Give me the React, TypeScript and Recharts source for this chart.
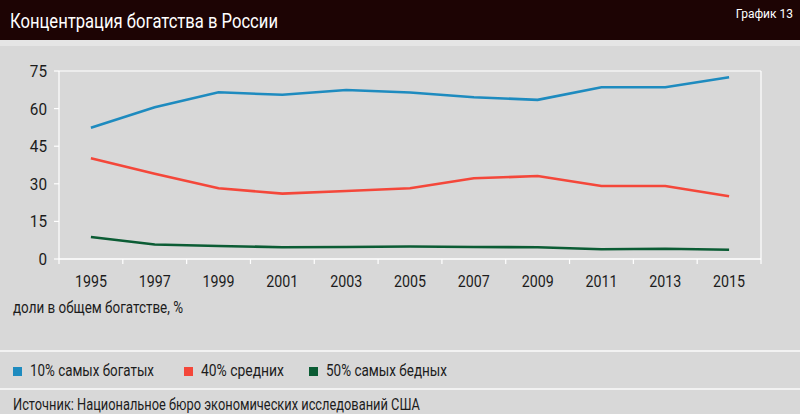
import React from "react";
import { LineChart, Line, XAxis, YAxis, CartesianGrid } from "recharts";

const years = [1995, 1997, 1999, 2001, 2003, 2005, 2007, 2009, 2011, 2013, 2015];
const richest10 = [52.4, 60.5, 66.5, 65.5, 67.4, 66.4, 64.5, 63.5, 68.5, 68.5, 72.5];
const middle40 = [40.2, 34, 28.2, 26.1, 27.1, 28.2, 32.2, 33.1, 29.1, 29.1, 25];
const poorest50 = [8.8, 5.8, 5.2, 4.7, 4.8, 5, 4.8, 4.7, 3.9, 4.1, 3.7];
const yTicks = [0, 15, 30, 45, 60, 75];
const xBoundaries = [1994, 1996, 1998, 2000, 2002, 2004, 2006, 2008, 2010, 2012, 2014, 2016];

const seriesNames = ["10% самых богатых", "40% средних", "50% самых бедных"];
const colors = ["#1e8bbf", "#f4473a", "#0b5c34"];

const data = years.map((y, i) => ({
  year: y,
  rich: richest10[i],
  mid: middle40[i],
  poor: poorest50[i],
}));

const xTicks = [...xBoundaries, ...years].sort((a, b) => a - b);

const FONT = "Roboto, 'Noto Sans', sans-serif";
const TEXT = "#1c1c1c";

const NText = (props: any) => {
  const { width, children, ...rest } = props;
  return (
    <text
      fontFamily={FONT}
      textLength={width}
      lengthAdjust="spacingAndGlyphs"
      {...rest}
    >
      {children}
    </text>
  );
};

const XTick = (props: any) => {
  const { x, y, payload } = props;
  const v = payload.value;
  if (v % 2 === 0) {
    return <line x1={x} x2={x} y1={y} y2={y + 5} stroke="#ffffff" strokeWidth={1.2} />;
  }
  return (
    <NText x={x} y={y + 28} textAnchor="middle" fontSize={17} fill={TEXT} width={32}>
      {String(v)}
    </NText>
  );
};

const YTick = (props: any) => {
  const { x, y, payload } = props;
  const s = String(payload.value);
  return (
    <NText x={x} y={y + 6} textAnchor="end" fontSize={17} fill={TEXT} width={s.length * 8.6}>
      {s}
    </NText>
  );
};

const EmptyTick = () => <g />;

export default function App() {
  return (
    <div
      style={{
        position: "fixed",
        left: 0,
        top: 0,
        width: 800,
        height: 414,
        background: "#d8d8d8",
        overflow: "hidden",
      }}
    >
      <svg width={800} height={414} style={{ position: "absolute", left: 0, top: 0 }}>
        <rect x={0} y={0} width={800} height={40} fill="#1d0404" />
        <rect x={0} y={40} width={800} height={6} fill="#e5e5e5" />
        <NText x={10} y={28} fontSize={21} fill="#ffffff" width={268}>
          Концентрация богатства в России
        </NText>
        <text x={793} y={18} fontSize={12} fill="#ffffff" textAnchor="end" fontFamily={FONT}>
          График 13
        </text>
        <NText x={13} y={313} fontSize={16} fill={TEXT} width={170}>
          доли в общем богатстве, %
        </NText>
        <rect x={0} y={350} width={800} height={2} fill="#f2f2f2" />
        <rect x={0} y={388} width={800} height={2} fill="#f2f2f2" />
        {seriesNames.map((name, i) => {
          const sx = [13, 184, 309][i];
          const w = [124, 83, 121][i];
          return (
            <g key={name}>
              <rect x={sx} y={367} width={9} height={9} fill={colors[i]} />
              <NText x={sx + 17} y={376} fontSize={16} fill={TEXT} width={w}>
                {name}
              </NText>
            </g>
          );
        })}
        <NText x={13} y={410} fontSize={16.5} fill={TEXT} width={407}>
          Источник: Национальное бюро экономических исследований США
        </NText>
      </svg>
      <div style={{ position: "absolute", left: 0, top: 0 }}>
        <LineChart
          width={800}
          height={300}
          data={data}
          margin={{ top: 71, right: 0, bottom: 0, left: 0 }}
        >
          <CartesianGrid horizontal={true} vertical={false} stroke="#ffffff" strokeWidth={1.2} />
          <XAxis
            dataKey="year"
            type="number"
            domain={[1994, 2016]}
            ticks={xTicks}
            interval={0}
            height={41}
            tickSize={0}
            tickMargin={0}
            tickLine={false}
            axisLine={{ stroke: "#ffffff", strokeWidth: 1.2 }}
            tick={<XTick />}
          />
          <YAxis
            yAxisId="left"
            domain={[0, 75]}
            ticks={yTicks}
            width={59}
            tickSize={5}
            tickMargin={7}
            tickLine={{ stroke: "#ffffff", strokeWidth: 1.2 }}
            axisLine={{ stroke: "#ffffff", strokeWidth: 1.2 }}
            tick={<YTick />}
            interval={0}
          />
          <YAxis
            yAxisId="right"
            orientation="right"
            domain={[0, 75]}
            ticks={yTicks}
            width={39}
            tickSize={4}
            tickLine={{ stroke: "#ffffff", strokeWidth: 1.2 }}
            axisLine={{ stroke: "#ffffff", strokeWidth: 1.2 }}
            tick={<EmptyTick />}
            interval={0}
          />
          <Line yAxisId="left" type="linear" dataKey="rich" stroke={colors[0]} strokeWidth={2.6} dot={false} isAnimationActive={false} />
          <Line yAxisId="left" type="linear" dataKey="mid" stroke={colors[1]} strokeWidth={2.6} dot={false} isAnimationActive={false} />
          <Line yAxisId="left" type="linear" dataKey="poor" stroke={colors[2]} strokeWidth={2.6} dot={false} isAnimationActive={false} />
        </LineChart>
      </div>
    </div>
  );
}
